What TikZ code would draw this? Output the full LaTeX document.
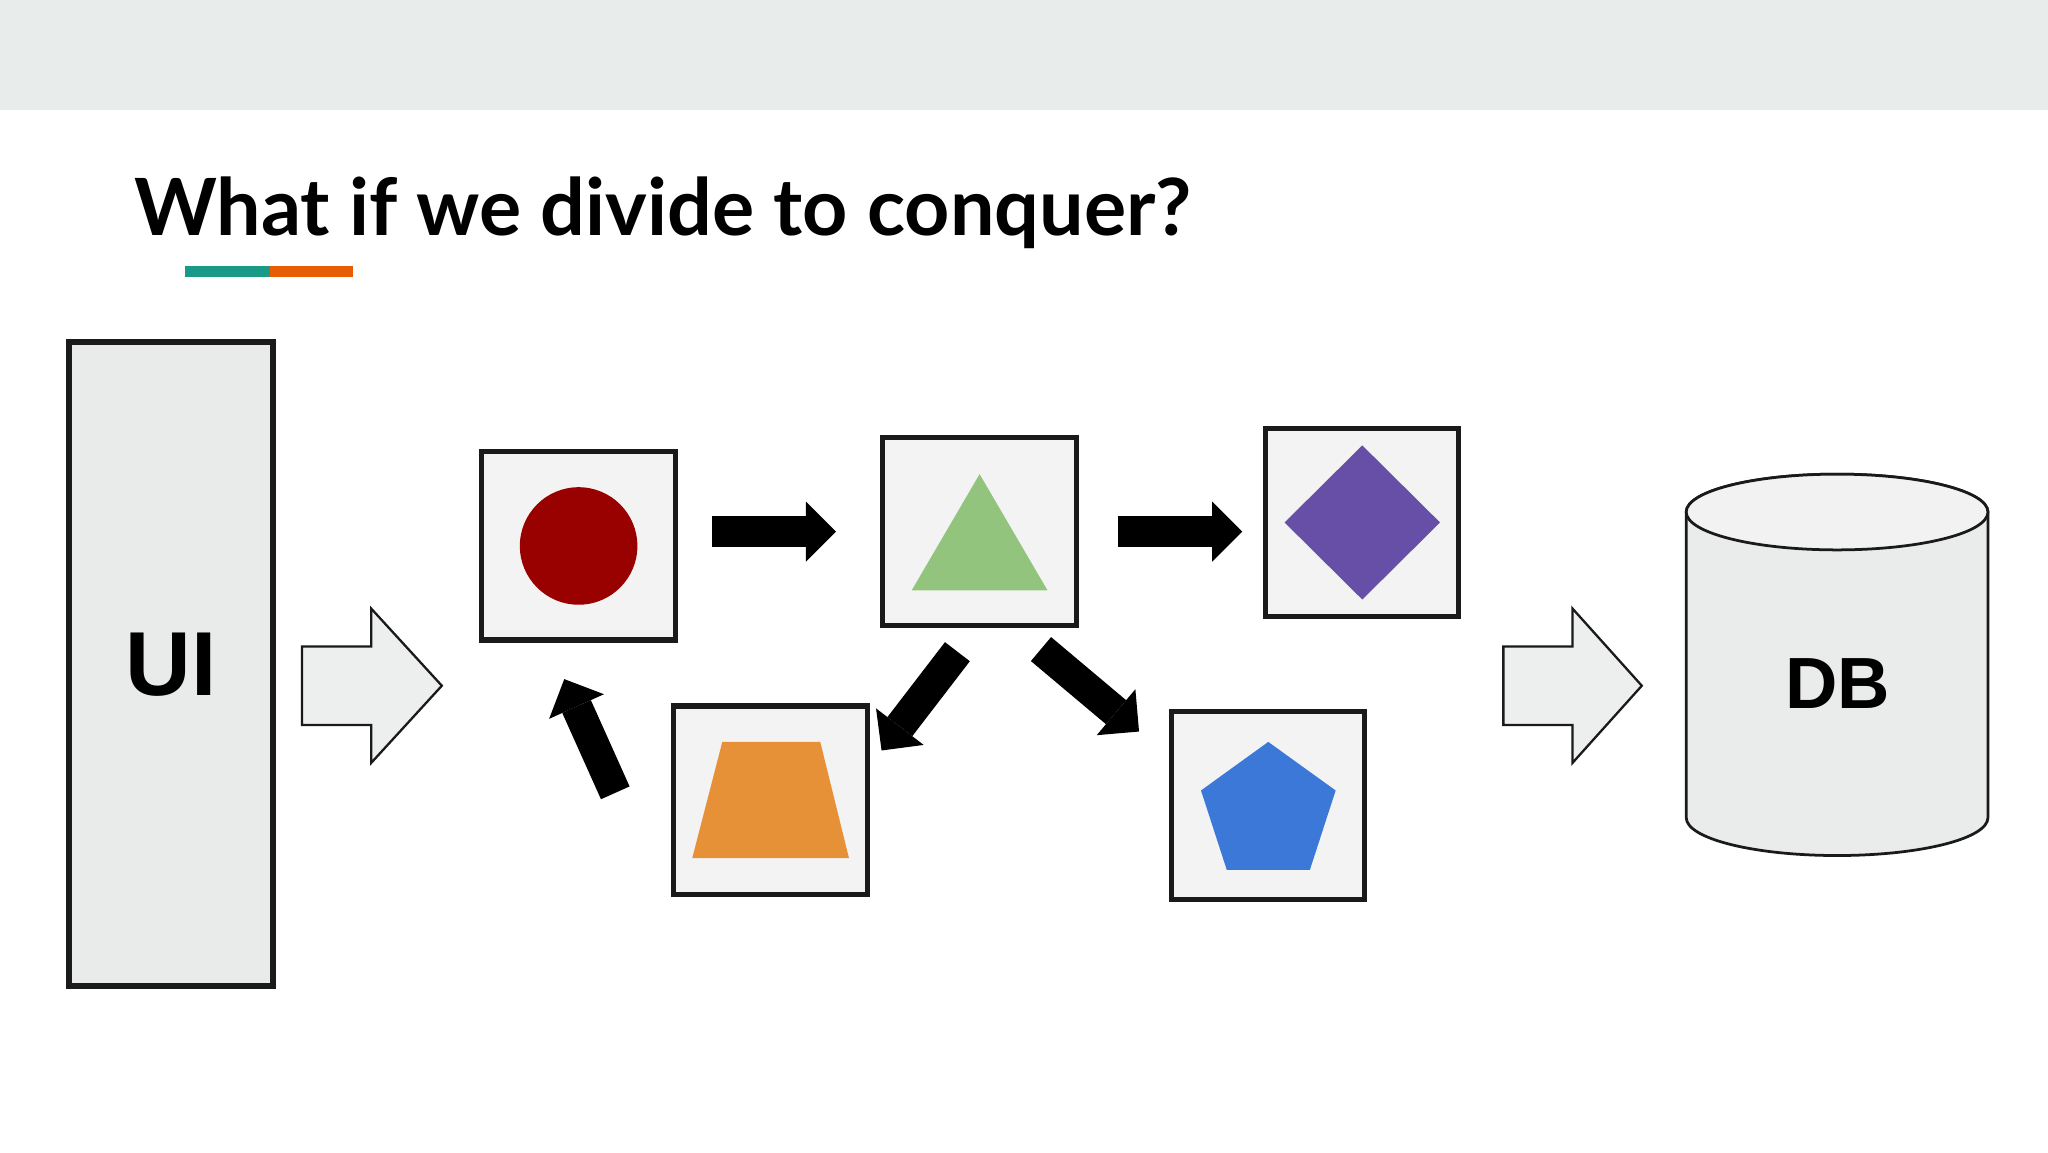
\documentclass[tikz,border=0pt]{standalone}
\usepackage{fontspec}
\setmainfont{Lato}
\newfontfamily\labelfont{Liberation Sans}
\usepackage{tikz}
\usetikzlibrary{positioning, arrows.meta}
\definecolor{bandgray}{HTML}{E8ECEA}
\definecolor{boxgray}{HTML}{F3F3F3}
\definecolor{uigray}{HTML}{E9EBEA}
\definecolor{arrowgray}{HTML}{EDEEEE}
\definecolor{dbbody}{HTML}{EAEBEB}
\definecolor{dbtop}{HTML}{F2F2F2}
\definecolor{edgeblack}{HTML}{1A1A1A}
\definecolor{circred}{HTML}{990000}
\definecolor{trigreen}{HTML}{93C47D}
\definecolor{diapurple}{HTML}{674EA7}
\definecolor{traporange}{HTML}{E69138}
\definecolor{pentblue}{HTML}{3C78D8}
\definecolor{barteal}{HTML}{1A9988}
\definecolor{barorange}{HTML}{E85D04}
\tikzset{
    card/.style={draw=edgeblack, line width=1.1pt, fill=boxgray, minimum width=1.48cm, minimum height=1.44cm, inner sep=0pt}, % the small boxes
    uibox/.style={draw=edgeblack, line width=1.3pt, fill=uigray, minimum width=1.56cm, minimum height=4.93cm}, % the tall UI box
    blockarrow/.style={line width=0.24cm, -{Triangle[width=0.46cm, length=0.23cm, line width=0pt]}}, % thick black arrows
    fatarrow/.style={draw=edgeblack, line width=0.5pt, fill=arrowgray, line join=miter}, % hollow arrows
}
\begin{document}
\begin{tikzpicture}
    \useasboundingbox (0,0) rectangle (15.68,8.82);
    \fill[white] (0,0) rectangle (15.68,8.82);
    \fill[bandgray] (0,7.98) rectangle (15.68,8.82);
    % title and bar
    \node[anchor=base west, inner sep=0pt] (title) at (1.02,7.02) {\bfseries\fontsize{17.2}{20}\selectfont What if we divide to conquer?};
    \fill[barteal] (1.42,6.70) rectangle (2.07,6.78);
    \fill[barorange] (2.07,6.70) rectangle (2.70,6.78);
    % UI
    \node[uibox] (ui) at (1.31,3.735) {\labelfont\bfseries\fontsize{19.8}{22}\selectfont UI};
    \draw[fatarrow] ([shift={(0.20,-0.165)}]ui.east) ++(0,0.30) -- ++(0.53,0) -- ++(0,0.29) -- ++(0.54,-0.59) -- ++(-0.54,-0.59) -- ++(0,0.29) -- ++(-0.53,0) -- cycle;
    % cards
    \node[card] (circ) at (4.43,4.64) {};
    \node[card] (tri) at (7.50,4.75) {};
    \node[card] (dia) at (10.43,4.82) {};
    \node[card] (trap) at (5.90,2.695) {};
    \node[card] (pent) at (9.71,2.65) {};
    \fill[circred] (circ) circle (0.45);
    \fill[trigreen] ([shift={(0,0.44)}]tri.center) -- ++(-0.52,-0.89) -- ++(1.04,0) -- cycle;
    \fill[diapurple] ([shift={(0,0.59)}]dia.center) -- ++(0.595,-0.59) -- ++(-0.595,-0.59) -- ++(-0.595,0.59) -- cycle;
    \fill[traporange] ([shift={(-0.37,0.445)}]trap.center) -- ++(0.75,0) -- ++(0.22,-0.89) -- ++(-1.20,0) -- cycle;
    \fill[pentblue] ([yshift=-0.05cm]pent.center) ++(90:0.54) -- ++(-0.515,-0.372) -- ++(0.197,-0.607) -- ++(0.637,0) -- ++(0.197,0.607) -- cycle;
    % arrows between cards
    \draw[blockarrow, shorten <=0.26cm, shorten >=0.34cm] (circ.east |- tri) -- (tri.west);
    \draw[blockarrow, shorten <=0.30cm, shorten >=0.16cm] (tri.east) -- (dia.west |- tri.east);
    \draw[blockarrow] ([shift={(-0.17,-0.18)}]tri.south) -- ([shift={(0.09,-0.36)}]trap.north east);
    \draw[blockarrow] ([shift={(0.47,-0.16)}]tri.south) -- ([shift={(-0.23,-0.17)}]pent.north west);
    \draw[blockarrow] ([shift={(-0.43,0.055)}]trap.west) -- ([shift={(-0.11,-0.28)}]circ.south);
    % DB
    \draw[fatarrow] (11.51,3.57) ++(0,0.30) -- ++(0.53,0) -- ++(0,0.29) -- ++(0.53,-0.59) -- ++(-0.53,-0.59) -- ++(0,0.29) -- ++(-0.53,0) -- cycle;
    \draw[edgeblack, line width=0.6pt, fill=dbbody] (12.91,4.90) -- (12.91,2.56) arc[start angle=180, end angle=360, x radius=1.155, y radius=0.29] -- (15.22,4.90) arc[start angle=0, end angle=180, x radius=1.155, y radius=0.29] -- cycle;
    \draw[edgeblack, line width=0.6pt, fill=dbtop] (14.065,4.90) ellipse[x radius=1.155, y radius=0.29];
    \node (db) at (14.07,3.59) {\labelfont\bfseries\fontsize{15.8}{18}\selectfont DB};
\end{tikzpicture}
\end{document}
